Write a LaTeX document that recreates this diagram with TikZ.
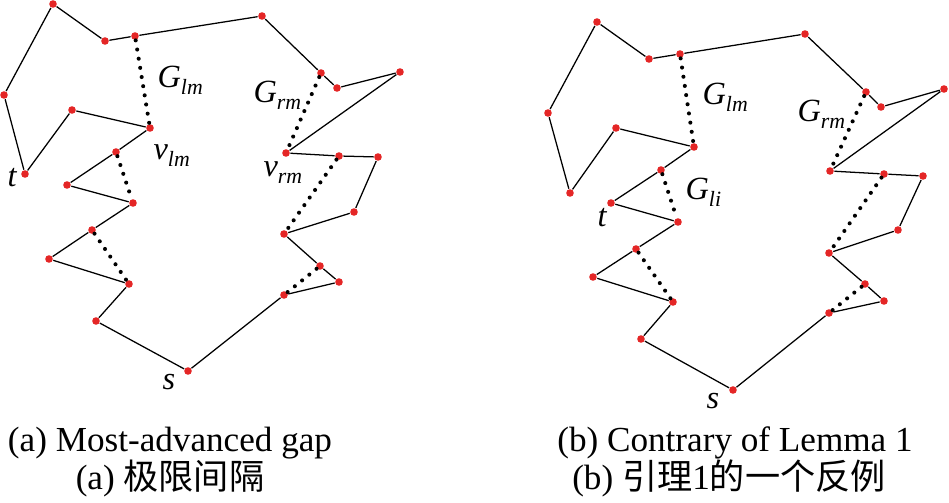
\documentclass[tikz,border=0pt]{standalone}
\usepackage{fontspec}
\setmainfont{Liberation Serif}
\newfontfamily\cjk{Noto Sans CJK SC}
\definecolor{node_red}{RGB}{228,38,38}
\newcommand\lbl[2]{\textit{#1}\raisebox{-4.8pt}{\fontsize{15.5}{15.5}\selectfont\textit{#2}}}

\begin{document}
\begin{tikzpicture}[x=0.025cm,y=-0.025cm,line width=0.9pt]
    \tikzstyle{vtx}=[circle, fill=node_red, draw=none, inner sep=0pt, minimum size=0.19cm]
    \tikzstyle{gapline}=[line width=2.9pt, line cap=round, dash pattern=on 0pt off 6.6pt]
    \tikzstyle{lab}=[inner sep=0pt, anchor=base west, font=\fontsize{23}{23}\selectfont]
    \tikzstyle{captxt}=[inner sep=0pt, anchor=base, font=\fontsize{25}{25}\selectfont]

    \useasboundingbox (0,0) rectangle (949,503);

    % (a) most-advanced gap
    \node[vtx] (a1)  at (188,371) {};
    \node[vtx] (a2)  at ( 96,321) {};
    \node[vtx] (a3)  at (129,284) {};
    \node[vtx] (a4)  at ( 49,259) {};
    \node[vtx] (a5)  at ( 92,230) {};
    \node[vtx] (a6)  at (133,203) {};
    \node[vtx] (a7)  at ( 67,185) {};
    \node[vtx] (a8)  at (116,152) {};
    \node[vtx] (a9)  at (150,128) {};
    \node[vtx] (a10) at ( 72,110) {};
    \node[vtx] (a11) at ( 25,174) {};
    \node[vtx] (a12) at (  4, 95) {};
    \node[vtx] (a13) at ( 53,  4) {};
    \node[vtx] (a14) at (105, 41) {};
    \node[vtx] (a15) at (135, 36) {};
    \node[vtx] (a16) at (262, 16) {};
    \node[vtx] (a17) at (321, 73) {};
    \node[vtx] (a18) at (337, 88) {};
    \node[vtx] (a19) at (400, 72) {};
    \node[vtx] (a20) at (286,153) {};
    \node[vtx] (a21) at (339,156) {};
    \node[vtx] (a22) at (378,157) {};
    \node[vtx] (a23) at (354,212) {};
    \node[vtx] (a24) at (284,234) {};
    \node[vtx] (a25) at (320,266) {};
    \node[vtx] (a26) at (339,282) {};
    \node[vtx] (a27) at (284,295) {};

    \draw (a1) -- (a2) -- (a3) -- (a4) -- (a5) -- (a6) -- (a7) -- (a8) -- (a9)
          -- (a10) -- (a11) -- (a12) -- (a13) -- (a14) -- (a15) -- (a16) -- (a17)
          -- (a18) -- (a19) -- (a20) -- (a21) -- (a22) -- (a23) -- (a24) -- (a25)
          -- (a26) -- (a27) -- (a1);
    \draw[gapline] (a15) -- (a9);
    \draw[gapline] (a8)  -- (a6);
    \draw[gapline] (a5)  -- (a3);
    \draw[gapline] (a17) -- (a20);
    \draw[gapline] (a21) -- (a24);
    \draw[gapline] (a25) -- (a27);

    \node[lab] (glma) at (157, 88) {\lbl{G}{lm}};
    \node[lab] (grma) at (253,103) {\lbl{G}{rm}};
    \node[lab] (vlma) at (153,160) {\lbl{v}{lm}};
    \node[lab] (vrma) at (263,177) {\lbl{v}{rm}};
    \node[lab] (ta)   at (  7,187) {\textit{t}};
    \node[lab] (sa)   at (162,390) {\textit{s}};

    % (b) contrary of lemma 1
    \node[vtx] (b1)  at (733,390) {};
    \node[vtx] (b2)  at (641,339) {};
    \node[vtx] (b3)  at (673,302) {};
    \node[vtx] (b4)  at (593,277) {};
    \node[vtx] (b5)  at (636,249) {};
    \node[vtx] (b6)  at (678,222) {};
    \node[vtx] (b7)  at (611,203) {};
    \node[vtx] (b8)  at (661,170) {};
    \node[vtx] (b9)  at (694,147) {};
    \node[vtx] (b10) at (616,128) {};
    \node[vtx] (b11) at (570,193) {};
    \node[vtx] (b12) at (548,113) {};
    \node[vtx] (b13) at (597, 22) {};
    \node[vtx] (b14) at (649, 59) {};
    \node[vtx] (b15) at (680, 54) {};
    \node[vtx] (b16) at (805, 34) {};
    \node[vtx] (b17) at (866, 92) {};
    \node[vtx] (b18) at (881,107) {};
    \node[vtx] (b19) at (944, 89) {};
    \node[vtx] (b20) at (830,171) {};
    \node[vtx] (b21) at (884,174) {};
    \node[vtx] (b22) at (923,176) {};
    \node[vtx] (b23) at (898,230) {};
    \node[vtx] (b24) at (829,253) {};
    \node[vtx] (b25) at (865,284) {};
    \node[vtx] (b26) at (884,301) {};
    \node[vtx] (b27) at (829,313) {};

    \draw (b1) -- (b2) -- (b3) -- (b4) -- (b5) -- (b6) -- (b7) -- (b8) -- (b9)
          -- (b10) -- (b11) -- (b12) -- (b13) -- (b14) -- (b15) -- (b16) -- (b17)
          -- (b18) -- (b19) -- (b20) -- (b21) -- (b22) -- (b23) -- (b24) -- (b25)
          -- (b26) -- (b27) -- (b1);
    \draw[gapline] (b15) -- (b9);
    \draw[gapline] (b8)  -- (b6);
    \draw[gapline] (b5)  -- (b3);
    \draw[gapline] (b17) -- (b20);
    \draw[gapline] (b21) -- (b24);
    \draw[gapline] (b25) -- (b27);

    \node[lab] (glmb) at (702,105) {\lbl{G}{lm}};
    \node[lab] (grmb) at (797,122) {\lbl{G}{rm}};
    \node[lab] (glib) at (685,200) {\lbl{G}{li}};
    \node[lab] (tb)   at (597,227) {\textit{t}};
    \node[lab] (sb)   at (706,409) {\textit{s}};

    % captions
    \node[captxt] (capa1) at (170,452) {(a) Most-advanced gap};
    \node[captxt] (capa2) at (170,490) {(a) {\cjk 极限间隔}};
    \node[captxt] (capb1) at (735,452) {(b) Contrary of Lemma 1};
    \node[captxt] (capb2) at (729,490) {(b) {\cjk 引理}1{\cjk 的一个反例}};
\end{tikzpicture}
\end{document}
